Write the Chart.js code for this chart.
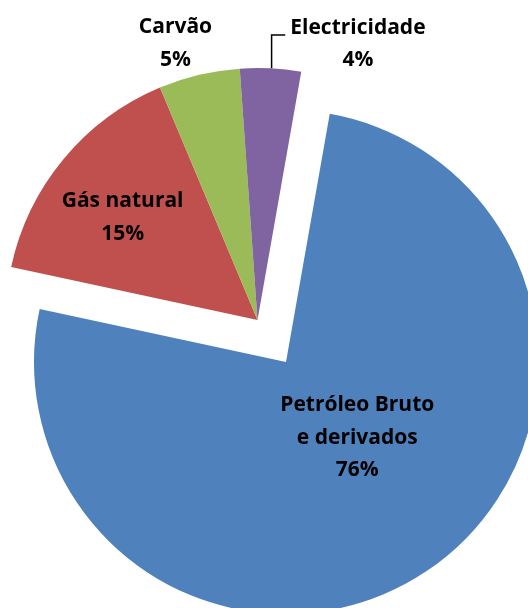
<!DOCTYPE html>
<html>
<head>
<meta charset="utf-8">
<script src="https://cdn.jsdelivr.net/npm/chart.js@4"></script>
<style>
    html, body { margin: 0; padding: 0; background: #fff; overflow: hidden; }
    .wrap { position: relative; width: 528px; height: 608px; }
    .wrap canvas { position: absolute; left: 0; top: 0; }
</style>
</head>
<body>
<div class="wrap">
    <canvas class="exploded" width="528" height="608"></canvas>
    <canvas class="rest" width="528" height="608"></canvas>
</div>
<script>
/*============================
ENERGY MIX PIE
=============================*/

let
    categories = ['Petróleo Bruto e derivados', 'Gás natural', 'Carvão', 'Electricidade'],
    labelLines = [['Petróleo Bruto', 'e derivados'], ['Gás natural'], ['Carvão'], ['Electricidade']],
    shares = [75.6, 15.3, 5.2, 3.9],
    sliceColors = ['#4F81BD', '#C0504D', '#9BBB59', '#8064A2'],
    explodedIndex = 0;

// where each label sits: fraction of radius along the slice middle, plus a nudge
let labelPlace = [
    { frac: 0.40, dx: 15, dy: -8 },
    { frac: 0.675, dx: -4, dy: 6 },
    { frac: 1.148, dx: -15, dy: 5 },
    { frac: 1.10, dx: 86, dy: 1, leader: true }
];

const FONT = 'bold 21px "Open Sans"';
const LINE_H = 32.5;

let total = shares.reduce((a, b) => a + b, 0);

let sliceLabels = {
    id: 'sliceLabels',
    afterDatasetsDraw(chart) {
        let ctx = chart.ctx;
        let meta = chart.getDatasetMeta(0);
        let shown = chart.options.plugins.sliceLabels.shown;
        ctx.save();
        ctx.font = FONT;
        ctx.fillStyle = '#000';
        ctx.textAlign = 'center';
        ctx.textBaseline = 'middle';
        meta.data.forEach((arc, i) => {
            if (!shown.includes(i)) return;
            let p = labelPlace[i];
            let mid = (arc.startAngle + arc.endAngle) / 2;
            let r = arc.outerRadius;
            let cx = arc.x + Math.cos(mid) * r * p.frac + p.dx;
            let cy = arc.y + Math.sin(mid) * r * p.frac + p.dy;
            let lines = labelLines[i].concat([Math.round(shares[i] / total * 100) + '%']);
            lines.forEach((t, k) => {
                ctx.fillText(t, cx, cy + (k - (lines.length - 1) / 2) * LINE_H);
            });
            if (p.leader) {
                let first = lines[0];
                let w = ctx.measureText(first).width;
                let ax = arc.x + Math.cos(mid) * r;
                let ay = arc.y + Math.sin(mid) * r;
                let ly = cy - (lines.length - 1) / 2 * LINE_H + 7;
                ctx.beginPath();
                ctx.strokeStyle = '#000';
                ctx.lineWidth = 1.5;
                ctx.moveTo(ax + 1, ay);
                ctx.lineTo(ax + 1, ly);
                ctx.lineTo(cx - w / 2 - 5, ly);
                ctx.stroke();
            }
        });
        ctx.restore();
    }
};

function pieConfig(visible, padding) {
    return {
        type: 'pie',
        data: {
            labels: categories,
            datasets: [{
                data: shares,
                backgroundColor: sliceColors.map((c, i) => visible.includes(i) ? c : 'rgba(0,0,0,0)'),
                borderWidth: 0,
                clip: false
            }]
        },
        options: {
            responsive: false,
            animation: false,
            events: [],
            rotation: 10,
            radius: 252,
            layout: { padding: padding },
            plugins: {
                legend: { display: false },
                tooltip: { enabled: false },
                sliceLabels: { shown: visible }
            }
        },
        plugins: [sliceLabels]
    };
}

function displayEnergyChart() {
    let all = categories.map((c, i) => i);
    let restIdx = all.filter(i => i !== explodedIndex);
    new Chart(document.querySelector('.exploded').getContext('2d'),
        pieConfig([explodedIndex], { left: 44, right: 0, top: 116, bottom: 0 }));
    new Chart(document.querySelector('.rest').getContext('2d'),
        pieConfig(restIdx, { left: 0, right: 13, top: 32, bottom: 0 }));
}
displayEnergyChart();
</script>
</body>
</html>
